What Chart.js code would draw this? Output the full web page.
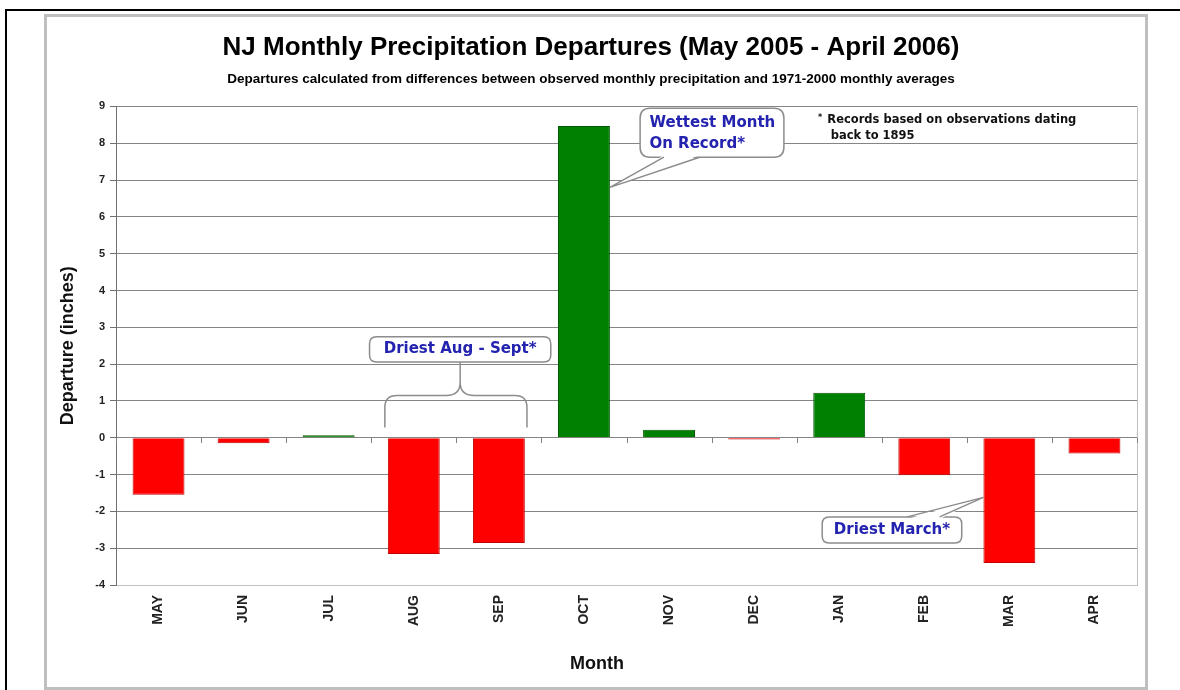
<!DOCTYPE html>
<html>
<head>
<meta charset="utf-8">
<script src="https://cdn.jsdelivr.net/npm/chart.js@4"></script>
<style>
  body { margin: 0; background: #fff; }
  #wrap { width: 1180px; height: 690px; }
</style>
</head>
<body>
<div id="wrap"><canvas id="precipChart" width="1180" height="690"></canvas></div>
<script>
var months = ['MAY', 'JUN', 'JUL', 'AUG', 'SEP', 'OCT', 'NOV', 'DEC', 'JAN', 'FEB', 'MAR', 'APR'];
var departures = [-1.55, -0.15, 0.07, -3.16, -2.86, 8.47, 0.22, -0.05, 1.22, -1.02, -3.40, -0.43];
var yMin = -4;
var yMax = 9;

var FONT = 'Arial, "Liberation Sans", sans-serif';
var NOTE_FONT = '"DejaVu Sans", Verdana, sans-serif';
var BLUE = '#2323b0';

// callouts, placed in data units (category index, inches)
var wettest = { x0: 5.66, x1: 7.35, y0: 8.95, y1: 7.62, bar: 5, tipY: 6.8, base: [5.94, 6.36], lines: ['Wettest Month', 'On Record*'], textX: 5.77, textY: [8.55, 7.98] };
var driestAugSep = { x0: 2.48, x1: 4.61, y0: 2.74, y1: 2.06, text: 'Driest Aug - Sept*', textY: 2.41, cusp: 1.5, arm: 1.15, left: 2.66, right: 4.33, foot: 0.28 };
var driestMar = { x0: 7.80, x1: 9.44, y0: -2.15, y1: -2.86, bar: 10, tipY: -1.62, base: [8.80, 9.18], text: 'Driest March*', textY: -2.50 };
var recordsNote = ['Records based on observations dating', 'back to 1895'];

function roundRect(ctx, x, y, w, h, r) {
    ctx.beginPath();
    ctx.moveTo(x + r, y);
    ctx.lineTo(x + w - r, y);
    ctx.quadraticCurveTo(x + w, y, x + w, y + r);
    ctx.lineTo(x + w, y + h - r);
    ctx.quadraticCurveTo(x + w, y + h, x + w - r, y + h);
    ctx.lineTo(x + r, y + h);
    ctx.quadraticCurveTo(x, y + h, x, y + h - r);
    ctx.lineTo(x, y + r);
    ctx.quadraticCurveTo(x, y, x + r, y);
    ctx.closePath();
}

// box with a pointed tail running to the edge of a bar
function callout(ctx, c, X, Y, tipX, tipOnTop, r) {
    var bx = X(c.x0), by = Y(c.y0), bw = X(c.x1) - bx, bh = Y(c.y1) - by;
    ctx.save();
    ctx.strokeStyle = '#8c8c8c';
    ctx.lineWidth = 1.5;
    ctx.fillStyle = '#fff';
    roundRect(ctx, bx, by, bw, bh, r);
    ctx.fill();
    ctx.stroke();
    var edge = tipOnTop ? by : by + bh;
    var inset = tipOnTop ? 2 : -2;
    var tipY = Y(c.tipY);
    ctx.beginPath();
    ctx.moveTo(X(c.base[0]), edge + inset);
    ctx.lineTo(tipX, tipY);
    ctx.lineTo(X(c.base[1]), edge + inset);
    ctx.closePath();
    ctx.fill();
    ctx.beginPath();
    ctx.moveTo(X(c.base[0]), edge);
    ctx.lineTo(tipX, tipY);
    ctx.lineTo(X(c.base[1]), edge);
    ctx.stroke();
    ctx.restore();
}

var decorations = {
    id: 'decorations',
    beforeDraw: function (chart) {
        var ctx = chart.ctx;
        ctx.save();
        ctx.fillStyle = '#fff';
        ctx.fillRect(0, 0, chart.width, chart.height);
        ctx.strokeStyle = '#000';
        ctx.lineWidth = 2;
        ctx.beginPath();
        ctx.moveTo(5, 10);
        ctx.lineTo(chart.width, 10);
        ctx.moveTo(6, 10);
        ctx.lineTo(6, chart.height);
        ctx.stroke();
        ctx.strokeStyle = '#bfbfbf';
        ctx.lineWidth = 3;
        ctx.strokeRect(45.5, 15.5, 1101, 673);
        ctx.restore();
    },
    afterDatasetsDraw: function (chart) {
        var ctx = chart.ctx;
        var xs = chart.scales.x, ys = chart.scales.y;
        var X = function (v) { return xs.getPixelForValue(v); };
        var Y = function (v) { return ys.getPixelForValue(v); };
        var area = chart.chartArea;
        var bars = chart.getDatasetMeta(0).data;

        ctx.save();
        // right edge of plot area
        ctx.strokeStyle = '#c0c0c0';
        ctx.lineWidth = 1;
        ctx.beginPath();
        ctx.moveTo(Math.round(area.right) + 0.5, area.top);
        ctx.lineTo(Math.round(area.right) + 0.5, area.bottom);
        ctx.stroke();

        // category ticks on the zero line
        var y0 = Math.round(Y(0));
        ctx.strokeStyle = '#808080';
        ctx.beginPath();
        for (var i = 0; i <= months.length; i++) {
            var tx = Math.round(X(i - 0.5)) + 0.5;
            ctx.moveTo(tx, y0);
            ctx.lineTo(tx, y0 + 5);
        }
        ctx.stroke();

        // x axis title, centred on the whole chart frame as in the original
        ctx.fillStyle = '#111';
        ctx.font = 'bold 18px ' + FONT;
        ctx.textAlign = 'center';
        ctx.textBaseline = 'middle';
        ctx.fillText('Month', 597, xs.bottom - 24);

        // wettest month callout
        var oct = bars[wettest.bar];
        callout(ctx, wettest, X, Y, oct.x + oct.width / 2, false, 10);
        ctx.fillStyle = BLUE;
        ctx.font = 'bold 15px ' + NOTE_FONT;
        ctx.textAlign = 'left';
        ctx.fillText(wettest.lines[0], X(wettest.textX), Y(wettest.textY[0]));
        ctx.fillText(wettest.lines[1], X(wettest.textX), Y(wettest.textY[1]));

        // driest march callout
        var mar = bars[driestMar.bar];
        callout(ctx, driestMar, X, Y, mar.x - mar.width / 2, true, 7);
        ctx.fillStyle = BLUE;
        ctx.textAlign = 'center';
        ctx.fillText(driestMar.text, (X(driestMar.x0) + X(driestMar.x1)) / 2, Y(driestMar.textY));

        // driest aug - sept box and brace
        var d = driestAugSep;
        ctx.strokeStyle = '#8c8c8c';
        ctx.lineWidth = 1.5;
        ctx.fillStyle = '#fff';
        roundRect(ctx, X(d.x0), Y(d.y0), X(d.x1) - X(d.x0), Y(d.y1) - Y(d.y0), 7);
        ctx.fill();
        ctx.stroke();
        ctx.fillStyle = BLUE;
        ctx.fillText(d.text, (X(d.x0) + X(d.x1)) / 2, Y(d.textY));
        var mid = (X(d.x0) + X(d.x1)) / 2;
        var yc = Y(d.cusp), ya = Y(d.arm), yf = Y(d.foot);
        var xl = X(d.left), xr = X(d.right);
        ctx.beginPath();
        ctx.moveTo(mid, Y(d.y1));
        ctx.lineTo(mid, yc);
        ctx.quadraticCurveTo(mid, ya, mid - 14, ya);
        ctx.lineTo(xl + 12, ya);
        ctx.quadraticCurveTo(xl, ya, xl, ya + 12);
        ctx.lineTo(xl, yf);
        ctx.moveTo(mid, yc);
        ctx.quadraticCurveTo(mid, ya, mid + 14, ya);
        ctx.lineTo(xr - 12, ya);
        ctx.quadraticCurveTo(xr, ya, xr, ya + 12);
        ctx.lineTo(xr, yf);
        ctx.stroke();

        // records footnote
        ctx.fillStyle = '#111';
        ctx.textAlign = 'left';
        ctx.font = 'bold 8px ' + NOTE_FONT;
        ctx.fillText('*', X(7.75), Y(8.68));
        ctx.font = 'bold 11.5px ' + NOTE_FONT;
        ctx.fillText(recordsNote[0], X(7.86), Y(8.62));
        ctx.fillText(recordsNote[1], X(7.90), Y(8.19));
        ctx.restore();
    }
};

var precipChart = new Chart(document.getElementById('precipChart'), {
    type: 'bar',
    data: {
        labels: months,
        datasets: [{
            label: 'Departure',
            data: departures,
            backgroundColor: departures.map(function (v) { return v >= 0 ? '#008000' : '#ff0000'; }),
            borderColor: departures.map(function (v) { return v >= 0 ? '#005a00' : '#c00000'; }),
            borderWidth: 1,
            categoryPercentage: 1,
            barPercentage: 0.61
        }]
    },
    options: {
        responsive: false,
        animation: false,
        events: [],
        layout: { padding: { left: 45, right: 43, top: 0, bottom: 2 } },
        plugins: {
            legend: { display: false },
            tooltip: { enabled: false },
            title: {
                display: true,
                text: 'NJ Monthly Precipitation Departures (May 2005 - April 2006)',
                color: '#000',
                font: { family: FONT, size: 26, weight: 'bold' },
                padding: { top: 32, bottom: 4 }
            },
            subtitle: {
                display: true,
                text: 'Departures calculated from differences between observed monthly precipitation and 1971-2000 monthly averages',
                color: '#000',
                font: { family: FONT, size: 13.5, weight: 'bold' },
                padding: { top: 4, bottom: 19 }
            }
        },
        scales: {
            x: {
                grid: { drawOnChartArea: false, drawTicks: false },
                border: { color: '#c0c0c0', width: 1 },
                ticks: {
                    color: '#222',
                    font: { family: FONT, size: 14, weight: 'bold' },
                    minRotation: 90,
                    maxRotation: 90,
                    padding: 10
                },
                afterFit: function (scale) { scale.height = 103; }
            },
            y: {
                min: yMin,
                max: yMax,
                grid: { color: '#858585', lineWidth: 1, tickLength: 6, tickColor: '#707070' },
                border: { color: '#707070', width: 1 },
                ticks: {
                    stepSize: 1,
                    color: '#222',
                    font: { family: FONT, size: 11, weight: 'bold' },
                    padding: 5
                },
                title: {
                    display: true,
                    text: 'Departure (inches)',
                    color: '#111',
                    font: { family: FONT, size: 18, weight: 'bold' },
                    padding: { top: 12, bottom: 0 }
                },
                afterFit: function (scale) { scale.width = 71; }
            }
        }
    },
    plugins: [decorations]
});
</script>
</body>
</html>
